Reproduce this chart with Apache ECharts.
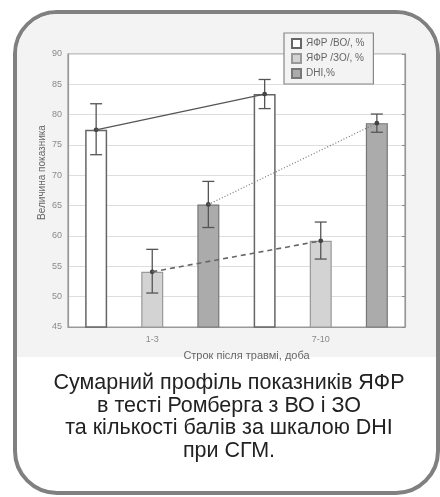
<!DOCTYPE html>
<html>
<head>
<meta charset="utf-8">
<script src="https://cdn.jsdelivr.net/npm/echarts@6/dist/echarts.min.js"></script>
<style>
  html, body { margin: 0; padding: 0; background: #fff; }
  #chart { width: 440px; height: 497px; }
</style>
</head>
<body>
<div id="chart"></div>
<script>
// Сумарний профіль показників ЯФР (ВО / ЗО) та DHI

var categories = ['1-3', '7-10'];
var seriesNames = ['ЯФР /ВО/, %', 'ЯФР /ЗО/, %', 'DHI,%'];

var voMean = [77.5, 83.4];
var voLow  = [73.4, 81.0];
var voHigh = [81.8, 85.8];

var zoMean = [54.1, 59.2];
var zoLow  = [50.6, 56.2];
var zoHigh = [57.8, 62.3];

var dhiMean = [65.2, 78.6];
var dhiLow  = [61.4, 77.1];
var dhiHigh = [69.0, 80.1];

var yTicks = [45, 50, 55, 60, 65, 70, 75, 80, 85, 90];

var captionLines = [
    'Сумарний профіль показників ЯФР',
    'в тесті Ромберга з ВО і ЗО',
    'та кількості балів за шкалою DHI',
    'при СГМ.'
];

var barW = 22;
var barGapPct = 155;
var step = barW * (1 + barGapPct / 100);   // відстань між центрами стовпчиків

function errRows(mean, low, high) {
    return mean.map(function (m, i) { return [i, m, low[i], high[i]]; });
}

// вуса + точка + лінія до попередньої точки
function makeRender(mean, offset, lineStyle) {
    return function (params, api) {
        var i = params.dataIndex;
        var c = api.coord([api.value(0), api.value(1)]);
        var lo = api.coord([api.value(0), api.value(2)]);
        var hi = api.coord([api.value(0), api.value(3)]);
        var x = c[0] + offset;
        var cap = 6;
        var err = { stroke: '#555', lineWidth: 1.3 };
        var kids = [
            { type: 'line', shape: { x1: x, y1: lo[1], x2: x, y2: hi[1] }, style: err },
            { type: 'line', shape: { x1: x - cap, y1: lo[1], x2: x + cap, y2: lo[1] }, style: err },
            { type: 'line', shape: { x1: x - cap, y1: hi[1], x2: x + cap, y2: hi[1] }, style: err },
            { type: 'circle', shape: { cx: x, cy: c[1], r: 2.4 }, style: { fill: '#444' } }
        ];
        if (i > 0) {
            var p = api.coord([i - 1, mean[i - 1]]);
            kids.unshift({
                type: 'line',
                shape: { x1: p[0] + offset, y1: p[1], x2: x, y2: c[1] },
                style: lineStyle
            });
        }
        return { type: 'group', children: kids };
    };
}

var axisFont = { color: '#8a8a8a', fontSize: 9, fontFamily: 'Liberation Sans, Arial, sans-serif' };

var option = {
    animation: false,
    backgroundColor: '#fff',
    graphic: [
        {
            type: 'rect', z: -10,
            shape: { x: 15, y: 12, width: 423, height: 481, r: 42 },
            style: { fill: '#fff', stroke: '#808080', lineWidth: 4 }
        },
        {
            type: 'rect', z: -9,
            shape: { x: 17, y: 14, width: 419, height: 343, r: [40, 40, 0, 0] },
            style: { fill: '#f3f3f3' }
        },
        {
            type: 'text', z: 10,
            x: 229, y: 372,
            style: {
                text: captionLines.join('\n'),
                fill: '#222',
                font: '21.5px "Liberation Sans", Arial, sans-serif',
                lineHeight: 22.5,
                align: 'center',
                verticalAlign: 'top'
            }
        }
    ],
    legend: {
        data: seriesNames,
        orient: 'vertical',
        left: 284,
        top: 33,
        padding: [5, 9, 5, 7],
        itemGap: 4,
        itemWidth: 9,
        itemHeight: 9,
        icon: 'rect',
        backgroundColor: '#f3f3f3',
        borderColor: '#888',
        borderWidth: 1.2,
        borderRadius: 0,
        textStyle: { color: '#666', fontSize: 10, fontFamily: 'Liberation Sans, Arial, sans-serif' }
    },
    grid: {
        left: 68, right: 35, top: 54, bottom: 170,
        show: true, backgroundColor: '#fff', borderColor: '#999', borderWidth: 1.2
    },
    xAxis: {
        type: 'category',
        data: categories,
        name: 'Строк після травмі, доба',
        nameLocation: 'middle',
        nameGap: 23,
        nameTextStyle: {
            color: '#666', fontSize: 11, fontFamily: 'Liberation Sans, Arial, sans-serif',
            padding: [0, 0, 0, 20]
        },
        axisLine: { lineStyle: { color: '#999', width: 1.2 } },
        axisTick: { alignWithLabel: true, inside: true, length: 3, lineStyle: { color: '#666' } },
        axisLabel: Object.assign({ margin: 8 }, axisFont),
        splitLine: { show: false }
    },
    yAxis: [
        {
            type: 'value',
            min: yTicks[0],
            max: yTicks[yTicks.length - 1],
            interval: yTicks[1] - yTicks[0],
            name: 'Величина показника',
            nameLocation: 'middle',
            nameGap: 21,
            nameMoveOverlap: false,
            nameTextStyle: {
                color: '#666', fontSize: 10, fontFamily: 'Liberation Sans, Arial, sans-serif',
                padding: [0, 0, 0, 36]
            },
            axisLine: { show: true, lineStyle: { color: '#999', width: 1.2 } },
            axisTick: { show: false },
            axisLabel: Object.assign({ margin: 6 }, axisFont),
            splitLine: { lineStyle: { color: '#dedede', width: 1 } }
        },
        {
            type: 'value',
            position: 'right',
            min: yTicks[0],
            max: yTicks[yTicks.length - 1],
            interval: yTicks[1] - yTicks[0],
            axisLine: { show: true, lineStyle: { color: '#999', width: 1.2 } },
            axisTick: { show: true, inside: true, length: 3, lineStyle: { color: '#888' } },
            axisLabel: { show: false },
            splitLine: { show: false }
        }
    ],
    series: [
        {
            name: seriesNames[0], type: 'bar', data: voMean,
            barWidth: barW, barGap: barGapPct + '%',
            itemStyle: { color: '#fff', borderColor: '#666', borderWidth: 1.5 }
        },
        {
            name: seriesNames[1], type: 'bar', data: zoMean,
            barWidth: barW, barGap: barGapPct + '%',
            itemStyle: { color: '#d3d3d3', borderColor: '#999', borderWidth: 1.2 }
        },
        {
            name: seriesNames[2], type: 'bar', data: dhiMean,
            barWidth: barW, barGap: barGapPct + '%',
            itemStyle: { color: '#ababab', borderColor: '#777', borderWidth: 1.2 }
        },
        {
            type: 'custom', z: 5, silent: true,
            data: errRows(voMean, voLow, voHigh),
            renderItem: makeRender(voMean, -step, { stroke: '#555', lineWidth: 1.3 })
        },
        {
            type: 'custom', z: 5, silent: true,
            data: errRows(zoMean, zoLow, zoHigh),
            renderItem: makeRender(zoMean, 0, { stroke: '#666', lineWidth: 1.6, lineDash: [5, 4] })
        },
        {
            type: 'custom', z: 5, silent: true,
            data: errRows(dhiMean, dhiLow, dhiHigh),
            renderItem: makeRender(dhiMean, step, { stroke: '#777', lineWidth: 1.2, lineDash: [1, 2] })
        }
    ]
};

var myChart = echarts.init(document.getElementById('chart'), null, { renderer: 'canvas' });
myChart.setOption(option);
</script>
</body>
</html>
